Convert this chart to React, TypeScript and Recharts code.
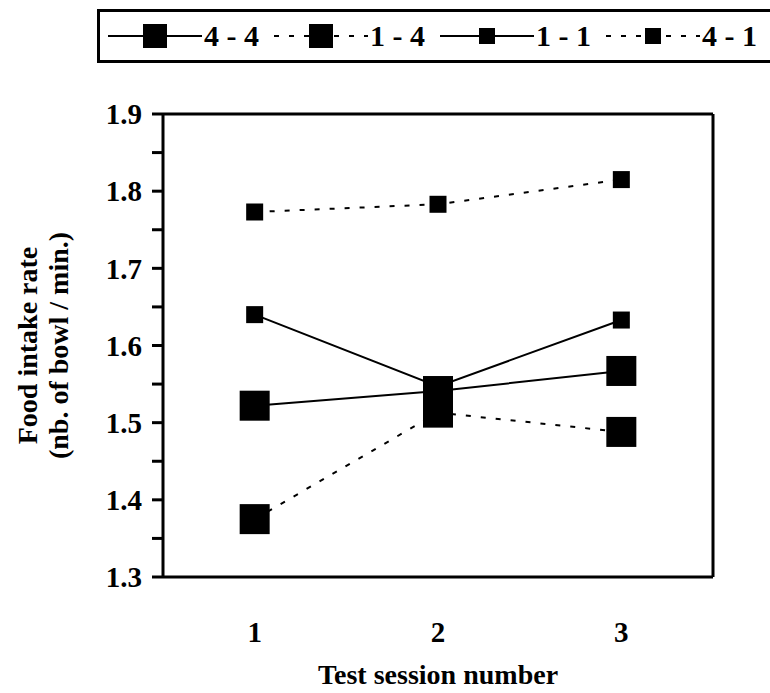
import React from "react"
import { LineChart, Line, XAxis, YAxis, ReferenceLine } from "recharts"

const sessions = [1, 2, 3]
const rate44 = [1.522, 1.541, 1.567]
const rate14 = [1.375, 1.513, 1.488]
const rate11 = [1.640, 1.547, 1.633]
const rate41 = [1.773, 1.783, 1.815]
const yTicks = [1.3, 1.35, 1.4, 1.45, 1.5, 1.55, 1.6, 1.65, 1.7, 1.75, 1.8, 1.85, 1.9]
const bandEdges = [0.5, 1.5, 2.5, 3.5]

const data = sessions.map((s, i) => ({
  session: s,
  r44: rate44[i],
  r14: rate14[i],
  r11: rate11[i],
  r41: rate41[i],
}))

const FONT = "'Liberation Serif', 'Times New Roman', serif"
const DASH = "5 10"

const series = [
  { key: "r44", name: "4 - 4", dashed: false, size: 30, legendSize: 24 },
  { key: "r14", name: "1 - 4", dashed: true, size: 30, legendSize: 24 },
  { key: "r11", name: "1 - 1", dashed: false, size: 17, legendSize: 16 },
  { key: "r41", name: "4 - 1", dashed: true, size: 17, legendSize: 16 },
]

const squareDot = (size: number) => (props: any) => {
  const { cx, cy, index } = props
  if (cx == null || cy == null) return <g key={index} />
  return <rect key={index} x={cx - size / 2} y={cy - size / 2} width={size} height={size} fill="#000" />
}

function YTitle(props: any) {
  const vb = props.viewBox
  const cy = vb.y + vb.height / 2
  return (
    <g fontFamily={FONT} fontWeight="bold" fontSize={28} fill="#000">
      <text x={27} y={cy} transform={`rotate(-90, 27, ${cy})`} textAnchor="middle" dominantBaseline="central">
        Food intake rate
      </text>
      <text x={58} y={cy} transform={`rotate(-90, 58, ${cy})`} textAnchor="middle" dominantBaseline="central">
        (nb. of bowl / min.)
      </text>
    </g>
  )
}

function LegendBox() {
  return (
    <div
      style={{
        position: "absolute",
        left: 97,
        top: 9,
        width: 700,
        height: 48,
        border: "3px solid #000",
        display: "flex",
        alignItems: "center",
        fontFamily: FONT,
        fontWeight: "bold",
        fontSize: 30,
        whiteSpace: "nowrap",
      }}
    >
      {series.map((s, i) => (
        <div key={s.key} style={{ display: "flex", alignItems: "center", marginLeft: i === 0 ? 8 : 15 }}>
          <svg width={94} height={30} style={{ display: "block" }}>
            <line x1={0} y1={15} x2={94} y2={15} stroke="#000" strokeWidth={2} strokeDasharray={s.dashed ? DASH : undefined} />
            <rect x={47 - s.legendSize / 2} y={15 - s.legendSize / 2} width={s.legendSize} height={s.legendSize} fill="#000" />
          </svg>
          <span style={{ marginLeft: 2 }}>{s.name}</span>
        </div>
      ))}
    </div>
  )
}

export default function App() {
  return (
    <div style={{ position: "absolute", left: 0, top: 0, width: 770, height: 693, overflow: "hidden", background: "#fff" }}>
      <LegendBox />
      <LineChart width={770} height={693} data={data} margin={{ top: 114, right: 57, bottom: 0, left: 0 }}>
        <XAxis
          xAxisId="edges"
          dataKey="session"
          type="number"
          domain={[0.5, 3.5]}
          ticks={bandEdges}
          interval={0}
          tick={false}
          tickSize={11}
          height={11}
          stroke="#000"
          strokeWidth={3}
        />
        <XAxis
          xAxisId="main"
          dataKey="session"
          type="number"
          domain={[0.5, 3.5]}
          ticks={sessions}
          interval={0}
          axisLine={false}
          tickLine={false}
          tickSize={0}
          tickMargin={33}
          height={105}
          tick={{ fill: "#000", fontFamily: FONT, fontWeight: "bold", fontSize: 29 }}
          label={{
            value: "Test session number",
            position: "insideBottom",
            offset: 9,
            fill: "#000",
            fontFamily: FONT,
            fontWeight: "bold",
            fontSize: 28,
          }}
        />
        <YAxis
          domain={[1.3, 1.9]}
          ticks={yTicks}
          interval={0}
          width={163}
          tickSize={11}
          tickMargin={10}
          stroke="#000"
          strokeWidth={3}
          tickFormatter={(v: number) => (Math.round(v * 100) % 10 === 0 ? v.toFixed(1) : "")}
          tick={{ fill: "#000", fontFamily: FONT, fontWeight: "bold", fontSize: 29 }}
          label={<YTitle />}
        />
        <ReferenceLine xAxisId="main" y={1.9} stroke="#000" strokeWidth={3} />
        <ReferenceLine xAxisId="main" x={3.5} stroke="#000" strokeWidth={3} />
        {series.map((s) => (
          <Line
            key={s.key}
            xAxisId="main"
            dataKey={s.key}
            name={s.name}
            stroke="#000"
            strokeWidth={2}
            strokeDasharray={s.dashed ? DASH : undefined}
            dot={squareDot(s.size)}
            activeDot={false}
            isAnimationActive={false}
          />
        ))}
      </LineChart>
    </div>
  )
}
